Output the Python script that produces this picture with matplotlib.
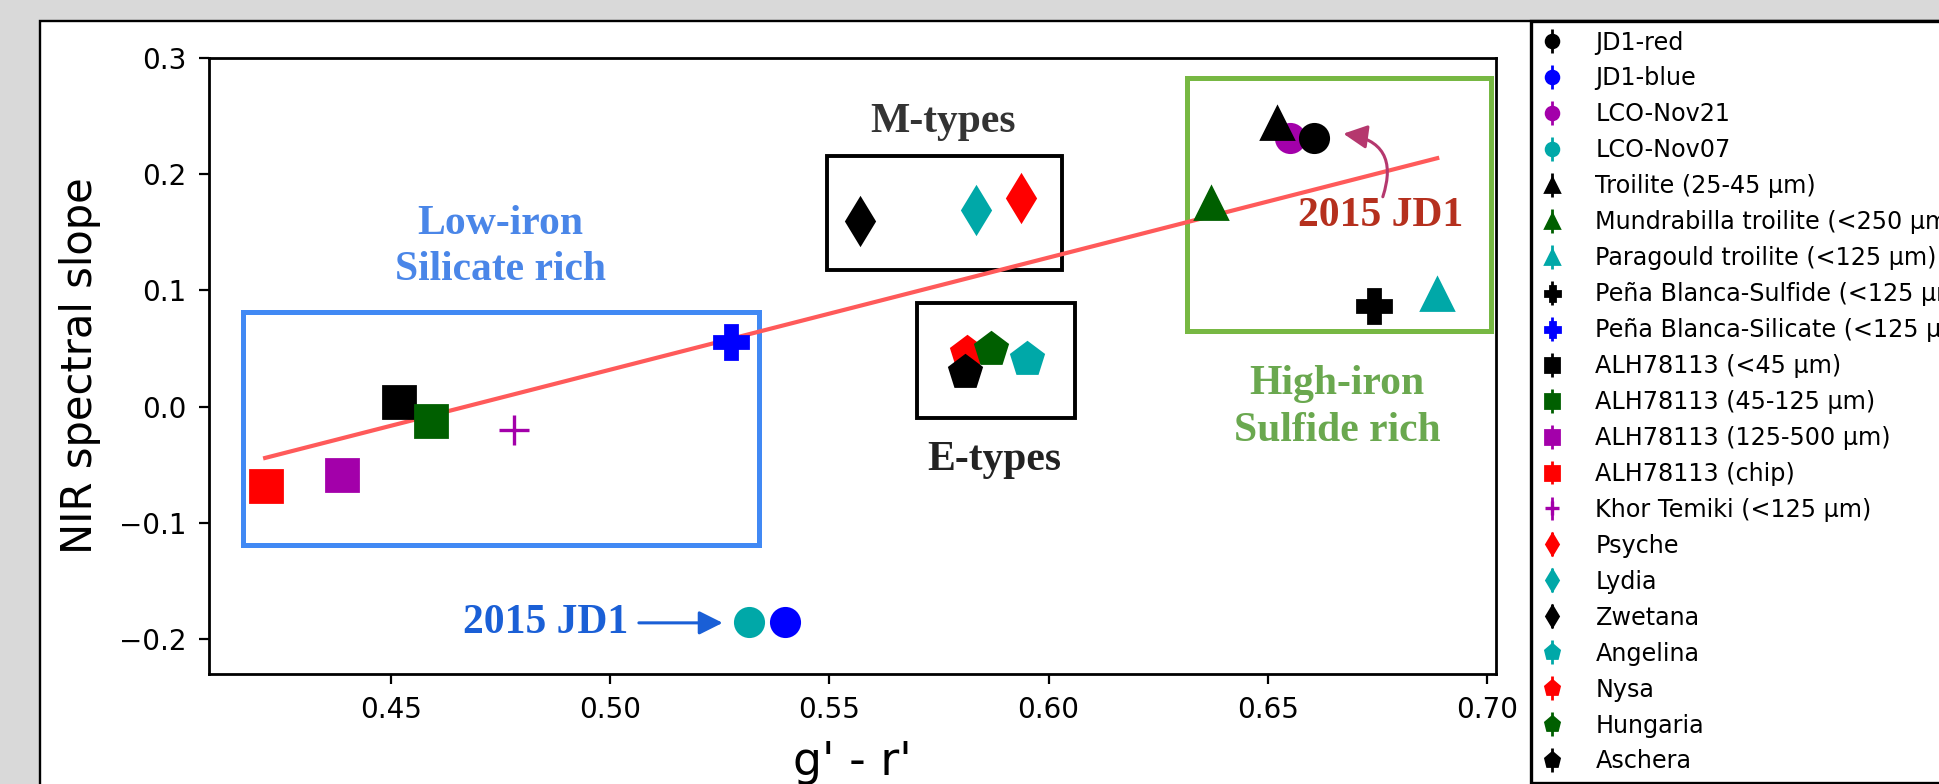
import matplotlib
matplotlib.use('Agg')
import matplotlib.pyplot as plt
from matplotlib.patches import Rectangle

# samples, g'-r' colour and NIR slope
names = ['JD1-red', 'JD1-blue', 'LCO-Nov21', 'LCO-Nov07',
         'Troilite (25-45 µm)', 'Mundrabilla troilite (<250 µm)',
         'Paragould troilite (<125 µm)', 'Peña Blanca-Sulfide (<125 µm)',
         'Peña Blanca-Silicate (<125 µm)', 'ALH78113 (<45 µm)',
         'ALH78113 (45-125 µm)', 'ALH78113 (125-500 µm)', 'ALH78113 (chip)',
         'Khor Temiki (<125 µm)', 'Psyche', 'Lydia', 'Zwetana',
         'Angelina', 'Nysa', 'Hungaria', 'Aschera']
g_r = [0.6604, 0.5399, 0.6551, 0.5316, 0.6520, 0.6371, 0.6885, 0.6743,
       0.5277, 0.4519, 0.4592, 0.4389, 0.4217, 0.4781, 0.5936, 0.5834,
       0.5571, 0.5950, 0.5814, 0.5868, 0.5810]
nir = [0.2312, -0.1855, 0.2310, -0.1855, 0.2439, 0.1750, 0.0968, 0.0862,
       0.0556, 0.0037, -0.0126, -0.0591, -0.0679, -0.0204, 0.1794, 0.1690,
       0.1594, 0.0410, 0.0462, 0.0496, 0.0295]

# linear fit end points
fit_x = [0.4214, 0.6886]
fit_y = [-0.0441, 0.2138]

mag = '#a300aa'
cyn = '#00a8a8'
grn = '#005f00'
colors = ['k', 'b', mag, cyn, 'k', grn, cyn, 'k', 'b', 'k', grn, mag, 'r',
          mag, 'r', cyn, 'k', cyn, 'r', grn, 'k']
markers = ['o', 'o', 'o', 'o', '^', '^', '^', 'P', 'P', 's', 's', 's', 's',
           '+', 'd', 'd', 'd', 'p', 'p', 'p', 'p']
sizes = {'o': 10.2, '^': 11.5, 'P': 12, 's': 11.5, '+': 11, 'd': 11.5, 'p': 12.3}

fig = plt.figure(figsize=(9.7, 3.92), dpi=200, facecolor='#d9d9d9')
W, H = 1940.0, 784.0
frame = Rectangle((40 / W, -0.05), 1.1, 1 - 21 / H + 0.05,
                  transform=fig.transFigure, fc='white', ec='black', lw=0.85)
frame.set_zorder(-10)
fig.patches.append(frame)

ax = fig.add_axes([209 / W, 110 / H, 1287 / W, 616 / H])
for s in ax.spines.values():
    s.set_linewidth(1.0)

ax.plot(fit_x, fit_y, color='#ff5a5a', lw=1.5, zorder=2)

for i in range(len(names)):
    m = markers[i]
    z = 4 if i == 0 else 3
    ax.errorbar([g_r[i]], [nir[i]], yerr=[0], fmt=m, color=colors[i],
                ms=sizes[m], mew=1.2 if m == '+' else 1.0, elinewidth=1,
                capsize=0, label=names[i], zorder=z)

# boxes
ax.add_patch(Rectangle((0.4164, -0.119), 0.534 - 0.4164, 0.0817 + 0.119,
                       fill=False, ec='#4189f4', lw=1.8, zorder=1))
ax.add_patch(Rectangle((0.6315, 0.0648), 0.7009 - 0.6315, 0.2826 - 0.0648,
                       fill=False, ec='#77b843', lw=1.8, zorder=1))
ax.add_patch(Rectangle((0.5495, 0.1178), 0.6031 - 0.5495, 0.216 - 0.1178,
                       fill=False, ec='black', lw=1.4, zorder=1))
ax.add_patch(Rectangle((0.5700, -0.0097), 0.606 - 0.570, 0.0891 + 0.0097,
                       fill=False, ec='black', lw=1.4, zorder=1))

tkw = dict(ha='center', va='center', family='Liberation Serif',
           weight='bold', fontsize=15, linespacing=1.3)
ax.text(0.475, 0.1375, 'Low-iron\nSilicate rich', color='#4a86e8', **tkw)
ax.text(0.6658, -0.001, 'High-iron\nSulfide rich', color='#6aa84f', **tkw)
ax.text(0.576, 0.245, 'M-types', color='#333333', **tkw)
ax.text(0.5877, -0.046, 'E-types', color='#222222', **tkw)
ax.text(0.6757, 0.1644, '2015 JD1', color='#b5301e', **tkw)
ax.text(0.4853, -0.186, '2015 JD1', color='#1a5fd6', **tkw)

ax.annotate('', xy=(0.5257, -0.186), xytext=(0.5066, -0.186),
            arrowprops=dict(arrowstyle='-|>', color='#1a5fd6', lw=1.1,
                            mutation_scale=18, shrinkA=0, shrinkB=0))
ax.annotate('', xy=(0.6672, 0.2349), xytext=(0.6762, 0.1806),
            arrowprops=dict(arrowstyle='-|>', color='#b5386e', lw=1.1,
                            mutation_scale=18, shrinkA=0, shrinkB=0,
                            connectionstyle='arc3,rad=0.6'))

ax.set_xlim(0.4086, 0.702)
ax.set_ylim(-0.23, 0.3)
ax.set_xticks([0.45, 0.50, 0.55, 0.60, 0.65, 0.70])
ax.set_yticks([-0.2, -0.1, 0.0, 0.1, 0.2, 0.3])
ax.tick_params(direction='out', length=3.5, width=0.8, pad=4.5,
               labelsize=10, top=False, right=False)
ax.set_xlabel("g' - r'", fontsize=16.5)
ax.set_ylabel('NIR spectral slope', fontsize=15)
ax.xaxis.set_label_coords(0.5, -0.107)
ax.yaxis.set_label_coords(-0.084, 0.5)

leg = ax.legend(loc='upper left', bbox_to_anchor=(1531 / W, 1 - 21 / H),
                bbox_transform=fig.transFigure, borderaxespad=0,
                fontsize=8.6, markerscale=0.45, handlelength=0.95,
                handletextpad=1.35, labelspacing=0.5, borderpad=0.4,
                fancybox=False, framealpha=1, edgecolor='black')
leg.get_frame().set_linewidth(1.2)

fig.savefig('out.png', dpi=200, facecolor=fig.get_facecolor())
